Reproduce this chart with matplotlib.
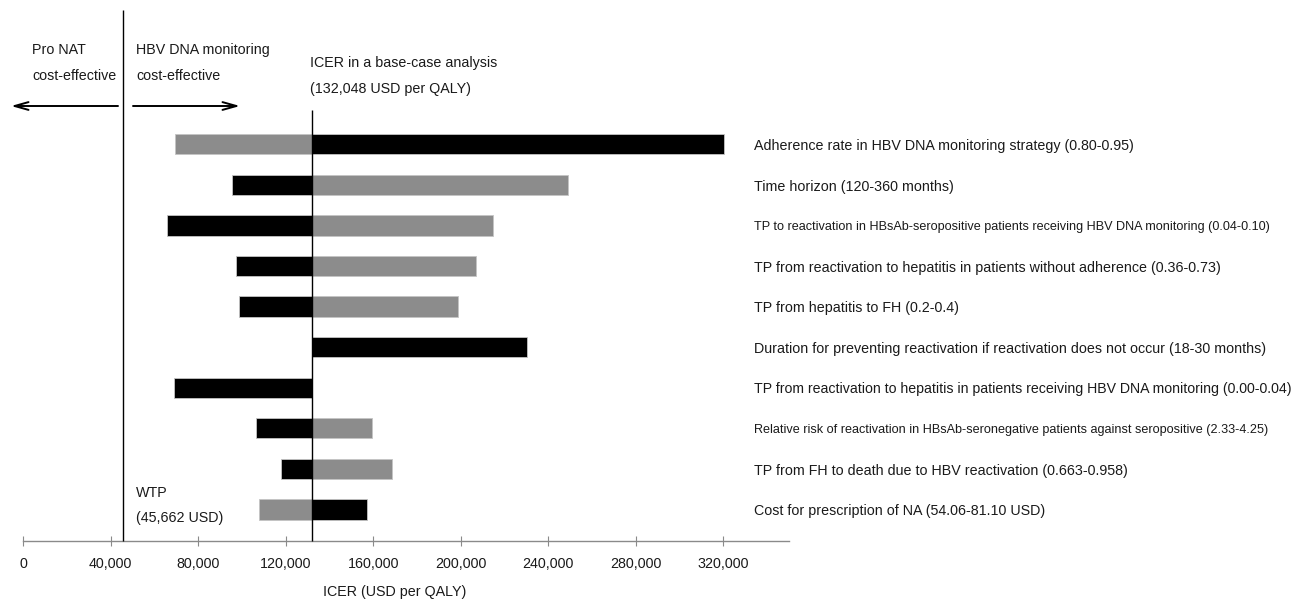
import matplotlib.pyplot as plt
import numpy as np

plt.rcParams["font.family"] = ["Liberation Sans", "DejaVu Sans"]

# ICER values in USD per QALY
base_icer = 132048
wtp = 45662

parameters = [
    "Adherence rate in HBV DNA monitoring strategy (0.80-0.95)",
    "Time horizon (120-360 months)",
    "TP to reactivation in HBsAb-seropositive patients receiving HBV DNA monitoring (0.04-0.10)",
    "TP from reactivation to hepatitis in patients without adherence (0.36-0.73)",
    "TP from hepatitis to FH (0.2-0.4)",
    "Duration for preventing reactivation if reactivation does not occur (18-30 months)",
    "TP from reactivation to hepatitis in patients receiving HBV DNA monitoring (0.00-0.04)",
    "Relative risk of reactivation in HBsAb-seronegative patients against seropositive (2.33-4.25)",
    "TP from FH to death due to HBV reactivation (0.663-0.958)",
    "Cost for prescription of NA (54.06-81.10 USD)",
]
# ICER at the parameter bound shown in black and in gray
black_end = [320300, 95300, 65800, 97200, 98800, 230100, 69000, 106200, 117900, 157100]
gray_end = [69400, 248900, 214600, 207100, 198900, 132048, 132048, 159200, 168600, 107600]
label_size = [10.25, 10.25, 9.1, 10.25, 10.25, 10.25, 10.2, 9.05, 10.25, 10.25]

xticks = np.arange(0, 320001, 40000)

W, H = 1309, 601
TEXT = "#1a1a1a"
FS = 10.3


def px(x, y):
    """figure pixel (from top-left) -> figure fraction"""
    return x / W, 1 - y / H


fig = plt.figure(figsize=(W / 100, H / 100), dpi=100)
ax = fig.add_axes([23.3 / W, 60 / H, 765.6 / W, 541 / H])
ax.set_xlim(0, 350000)
ax.set_ylim(9.776, -3.556)

y = np.arange(len(parameters))
black_end = np.array(black_end)
gray_end = np.array(gray_end)

ax.barh(y, black_end - base_icer, left=base_icer, height=0.5,
        color="black", edgecolor="#c4c4c4", linewidth=0.6, zorder=2)
has_gray = gray_end != base_icer
ax.barh(y[has_gray], gray_end[has_gray] - base_icer, left=base_icer, height=0.5,
        color="#8c8c8c", edgecolor="#c4c4c4", linewidth=0.6, zorder=2)

# WTP threshold and base-case lines
ax.vlines(wtp, -3.31, 9.776, color="black", lw=1.0, clip_on=False, zorder=3)
ax.vlines(base_icer, -0.845, 9.776, color="black", lw=1.0, clip_on=False, zorder=3)

for i, (label, size) in enumerate(zip(parameters, label_size)):
    ax.text(0.9538, i + 0.04, label, transform=ax.get_yaxis_transform(),
            ha="left", va="center", fontsize=size, color=TEXT)

for side in ["top", "left", "right"]:
    ax.spines[side].set_visible(False)
ax.spines["bottom"].set_color("#8a8a8a")
ax.spines["bottom"].set_linewidth(1.0)
ax.set_yticks([])
ax.set_xticks(xticks)
ax.set_xticklabels([f"{v:,}" for v in xticks])
ax.tick_params(axis="x", direction="inout", length=7, width=0.8, color="#8a8a8a",
               pad=8, labelsize=FS, labelcolor=TEXT)
ax.set_xlabel("ICER (USD per QALY)", fontsize=FS, color=TEXT)
ax.xaxis.set_label_coords((395 - 23.3) / 765.6, -0.081)

# annotations
fig.text(*px(32, 50), "Pro NAT", va="center", fontsize=FS, color=TEXT)
fig.text(*px(32, 76), "cost-effective", va="center", fontsize=FS, color=TEXT)
fig.text(*px(136, 50), "HBV DNA monitoring", va="center", fontsize=FS, color=TEXT)
fig.text(*px(136, 76), "cost-effective", va="center", fontsize=FS, color=TEXT)
fig.text(*px(310, 63), "ICER in a base-case analysis", va="center", fontsize=FS, color=TEXT)
fig.text(*px(310, 89), "(132,048 USD per QALY)", va="center", fontsize=FS, color=TEXT)
fig.text(*px(136, 493), "WTP", va="center", fontsize=FS, color=TEXT)
fig.text(*px(136, 518), "(45,662 USD)", va="center", fontsize=FS, color=TEXT)

arrow = dict(arrowstyle="->,head_length=1.0,head_width=0.28", lw=1.4, color="black",
             shrinkA=0, shrinkB=0)
ax.annotate("", xy=px(11, 106), xycoords="figure fraction",
            xytext=px(118, 106), textcoords="figure fraction", arrowprops=arrow)
ax.annotate("", xy=px(240, 106), xycoords="figure fraction",
            xytext=px(133, 106), textcoords="figure fraction", arrowprops=arrow)

fig.savefig("out.png", dpi=100)
